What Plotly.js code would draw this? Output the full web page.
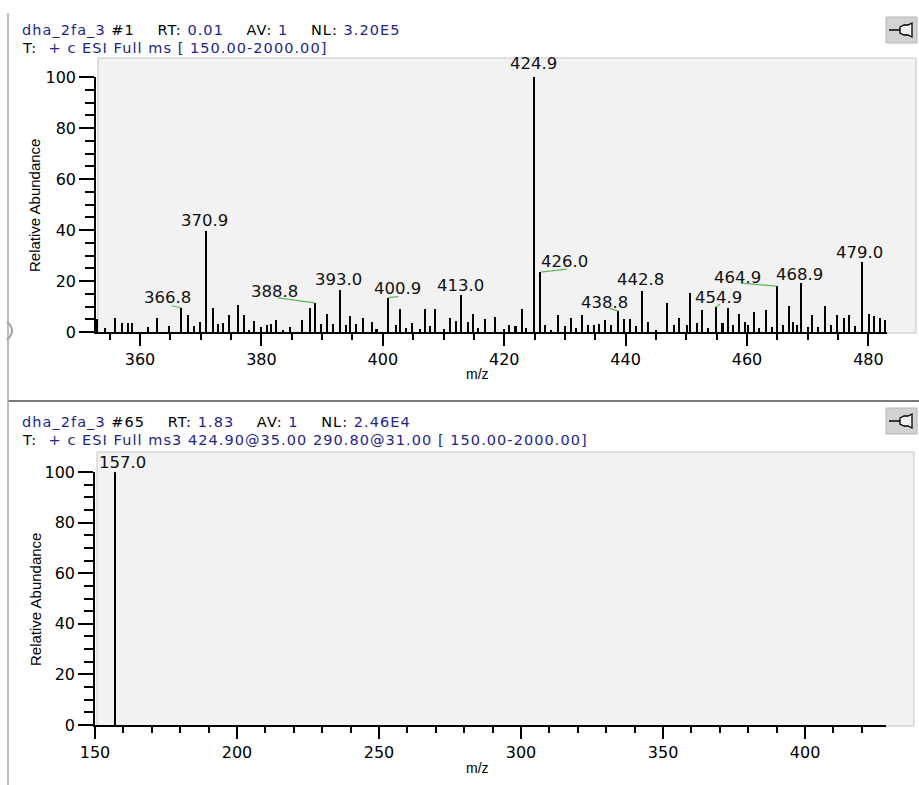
<!DOCTYPE html>
<html>
<head>
<meta charset="utf-8">
<script src="https://cdn.plot.ly/plotly-3.0.1.min.js"></script>
<style>html,body{margin:0;padding:0;background:#fff;}#chart{width:919px;height:785px;}</style>
</head>
<body>
<div id="chart"></div>
<script>
// ---------- DATA ----------
const topMz = [352.9, 354.2, 356.0, 357.1, 358.1, 358.8, 361.4, 362.9, 364.8, 366.8, 368.0, 368.9, 370.0, 370.9, 372.1, 372.9, 373.7, 374.7, 376.2, 377.1, 378.0, 378.9, 379.9, 381.0, 381.7, 382.5, 383.6, 384.8, 386.7, 388.0, 388.8, 389.9, 390.9, 391.8, 393.0, 393.9, 394.7, 395.6, 396.8, 398.3, 399.0, 400.9, 402.2, 402.8, 403.8, 404.9, 406.2, 407.0, 407.8, 408.7, 410.1, 411.1, 412.1, 413.0, 414.1, 414.9, 415.8, 416.8, 418.5, 420.0, 420.8, 421.9, 423.0, 423.7, 424.9, 426.0, 426.8, 427.8, 428.9, 430.0, 431.0, 431.9, 432.8, 433.9, 434.8, 435.6, 436.6, 437.7, 438.8, 439.7, 440.7, 441.8, 442.8, 443.7, 445.0, 446.8, 448.0, 448.8, 450.1, 450.6, 451.8, 452.7, 453.6, 454.9, 456.0, 456.9, 457.7, 458.7, 459.7, 460.2, 461.2, 462.0, 463.1, 464.1, 464.9, 465.9, 467.0, 467.6, 468.2, 468.9, 470.1, 470.8, 471.7, 472.9, 473.9, 474.8, 476.0, 476.9, 477.8, 479.0, 480.1, 481.0, 481.9, 482.8];
const topInt = [5.2, 1.5, 5.6, 3.5, 3.5, 3.5, 2.0, 5.6, 2.2, 9.5, 6.5, 2.2, 3.9, 39.5, 9.4, 3.3, 3.5, 6.5, 10.5, 6.5, 0.8, 4.3, 2.0, 2.6, 3.3, 4.8, 0.6, 2.0, 4.8, 9.4, 11.4, 3.0, 7.2, 3.3, 16.3, 2.6, 6.1, 3.0, 5.6, 3.9, 1.3, 13.5, 2.6, 9.1, 1.7, 3.7, 1.3, 9.1, 2.4, 9.1, 1.0, 5.6, 4.3, 14.5, 3.9, 6.9, 1.7, 5.2, 6.0, 1.0, 2.6, 2.4, 9.1, 1.7, 100, 23.5, 2.6, 0.8, 6.5, 2.4, 5.6, 1.7, 6.5, 2.6, 2.6, 3.0, 4.9, 2.6, 8.2, 5.2, 5.2, 2.4, 16.1, 3.9, 0.7, 11.5, 2.9, 5.5, 2.6, 15.4, 3.7, 8.5, 1.6, 9.8, 3.7, 9.4, 2.6, 7.2, 3.9, 2.6, 7.8, 1.6, 8.5, 2.0, 18.0, 2.6, 10.2, 3.9, 2.6, 19.2, 2.0, 6.5, 2.0, 10.1, 2.6, 6.8, 5.5, 6.8, 2.3, 27.6, 7.2, 6.3, 5.5, 4.9];
const topLabels = [366.8, 370.9, 388.8, 393.0, 400.9, 413.0, 424.9, 426.0, 438.8, 442.8, 454.9, 464.9, 468.9, 479.0];

const botMz = [157.0];
const botInt = [100];
const botLabels = [157.0];

const xTitle = 'm/z';
const yTitle = 'Relative Abundance';
const topHeader1 = ['dha_2fa_3', ' #1', '    RT: ', '0.01', '    AV: ', '1', '    NL: ', '3.20E5'];
const topHeader2 = ['T: ', ' + c ESI Full ms [ 150.00-2000.00]'];
const botHeader1 = ['dha_2fa_3', ' #65', '    RT: ', '1.83', '    AV: ', '1', '    NL: ', '2.46E4'];
const botHeader2 = ['T: ', ' + c ESI Full ms3 424.90@35.00 290.80@31.00 [ 150.00-2000.00]'];

// ---------- STYLE / LAYOUT ----------
const W = 919, H = 785;
const px = x => x / W;
const py = y => 1 - y / H;
const NAVY = '#24248f';
const LEAF = '#5cb85c';
const numFont = 'DejaVu Sans, sans-serif';
const txtFont = 'Liberation Sans, Arial, sans-serif';

// label text offsets (px, relative to bar top) and leader tails (px)
const topLabelOffset = [[-14,-10],[-2,-11],[-40,-11],[-2,-11],[9,-9],[-1,-10],[0,-13],[24,-11],[-14,-9],[-2,-11],[2,-10],[-39,-9],[-2,-9],[-3,-9]];
const topLeader = [[-10,-2],null,[-37,-5],null,[10,-1],null,null,[26,-3],[-9,-3],null,[4,-3],[-36,-3],null,null];
const botLabelOffset = [[8,-10]];
const botLeader = [[9,-2]];

const topAx = {xd:[96,887], xr:[352.75,483.06], yd:[332,77], yr:[0,100]};
const botAx = {xd:[95,886], xr:[150,428.5], yd:[725,472], yr:[0,100]};
const scaleX = a => (a.xr[1]-a.xr[0])/(a.xd[1]-a.xd[0]);
const scaleY = a => (a.yr[1]-a.yr[0])/(a.yd[0]-a.yd[1]);

const LS = 'letter-spacing:1.05px;';
function hdrLine1(parts) {
  const cols = [NAVY, '#000', '#000', NAVY, '#000', NAVY, '#000', NAVY];
  return parts.map((p, i) => `<span style="${LS}color:${cols[i]}">${p.replace(/ /g, '\u00A0')}</span>`).join('');
}
function hdrLine2(parts) {
  const cols = ['#000', NAVY];
  return parts.map((p, i) => `<span style="${LS}color:${cols[i]}">${p.replace(/ /g, '\u00A0')}</span>`).join('');
}

function stick(mz, inten, xa, ya, w) {
  return {type:'bar', x:mz, y:inten, width:w, xaxis:xa, yaxis:ya,
    marker:{color:'#000', line:{width:0}}, hoverinfo:'x+y'};
}
function leaders(labels, mz, inten, lead, ax, xa, ya) {
  const xs = [], ys = [];
  labels.forEach((m, i) => {
    if (!lead[i]) return;
    const v = inten[mz.indexOf(m)];
    xs.push(m, m + lead[i][0]*scaleX(ax), null);
    ys.push(v, v - lead[i][1]*scaleY(ax), null);
  });
  return {type:'scatter', mode:'lines', x:xs, y:ys, xaxis:xa, yaxis:ya,
    line:{color:LEAF, width:1.2}, hoverinfo:'skip', cliponaxis:false};
}
function labelAnn(labels, mz, inten, offs, xa, ya) {
  return labels.map((m, i) => ({
    x: m, y: inten[mz.indexOf(m)], xref: xa, yref: ya,
    text: m.toFixed(1), showarrow: false, xanchor: 'center', yanchor: 'middle',
    xshift: offs[i][0], yshift: -offs[i][1], borderpad: 0,
    font: {family: numFont, size: 16.5, color: '#111'}
  }));
}

const data = [
  stick(topMz, topInt, 'x', 'y', 0.25),
  leaders(topLabels, topMz, topInt, topLeader, topAx, 'x', 'y'),
  stick(botMz, botInt, 'x2', 'y2', 0.5),
  leaders(botLabels, botMz, botInt, botLeader, botAx, 'x2', 'y2')
];

function xAxis(a, anchor, dtick, mdtick) {
  return {domain:[px(a.xd[0]), px(a.xd[1])], range:a.xr, anchor:anchor,
    showline:true, linecolor:'#000', linewidth:1.6, ticks:'outside', ticklen:12, tickwidth:1.5, tickcolor:'#000',
    tick0:0, dtick:dtick, minor:{tick0:0, dtick:mdtick, ticks:'outside', ticklen:6, tickwidth:1.5, tickcolor:'#000', showgrid:false},
    showgrid:false, zeroline:false, fixedrange:true, tickfont:{family:numFont, size:16, color:'#000'}};
}
function yAxis(a, anchor) {
  return {domain:[py(a.yd[0]), py(a.yd[1])], range:a.yr, anchor:anchor,
    showline:true, linecolor:'#000', linewidth:1.6, ticks:'outside', ticklen:15, tickwidth:1.5, tickcolor:'#000',
    tick0:0, dtick:20, minor:{tick0:0, dtick:5, ticks:'outside', ticklen:9, tickwidth:1.5, tickcolor:'#000', showgrid:false},
    showgrid:false, zeroline:false, fixedrange:true, tickfont:{family:numFont, size:16, color:'#000'}};
}

function pin(cy) {
  const s = [];
  s.push({type:'rect', xref:'paper', yref:'paper', x0:px(886), x1:px(917), y0:py(cy+13), y1:py(cy-13),
    fillcolor:'#d2d2d2', line:{color:'#b4b4b4', width:1}, layer:'above'});
  s.push({type:'line', xref:'paper', yref:'paper', x0:px(889), x1:px(900), y0:py(cy), y1:py(cy), line:{color:'#000', width:1.5}});
  s.push({type:'path', xref:'paper', yref:'paper',
    path:`M ${px(900)} ${py(cy-3)} L ${px(904)} ${py(cy-5)} L ${px(908)} ${py(cy-5)} L ${px(912)} ${py(cy-7)} L ${px(912)} ${py(cy+7)} L ${px(908)} ${py(cy+5)} L ${px(904)} ${py(cy+5)} L ${px(900)} ${py(cy+3)} Z`,
    fillcolor:'#f0f0f0', line:{color:'#000', width:1.3}});
  return s;
}

const shapes = [
  {type:'rect', xref:'paper', yref:'paper', x0:px(98), x1:px(916), y0:py(333), y1:py(58), fillcolor:'#f2f2f2', line:{color:'#c6c6c6', width:1}, layer:'below'},
  {type:'rect', xref:'paper', yref:'paper', x0:px(97), x1:px(914), y0:py(726), y1:py(452), fillcolor:'#f2f2f2', line:{color:'#c6c6c6', width:1}, layer:'below'},
  {type:'line', xref:'paper', yref:'paper', x0:px(8), x1:px(919), y0:py(401), y1:py(401), line:{color:'#7a7a7a', width:2}, layer:'below'},
  {type:'line', xref:'paper', yref:'paper', x0:px(8), x1:px(8), y0:py(13), y1:py(785), line:{color:'#a6a6a6', width:1.5}, layer:'below'},
  {type:'path', xref:'paper', yref:'paper', path:`M ${px(7)} ${py(322)} Q ${px(17)} ${py(330)} ${px(7)} ${py(340)}`, line:{color:'#a0a0a0', width:2}, layer:'below'},
  ...pin(30), ...pin(421)
];

const hdrFont = {family:numFont, size:14.5, color:'#000'};
const annotations = [
  {xref:'paper', yref:'paper', x:px(21), y:py(30.5), xanchor:'left', yanchor:'middle', showarrow:false, borderpad:0, text:hdrLine1(topHeader1), font:hdrFont},
  {xref:'paper', yref:'paper', x:px(21), y:py(48), xanchor:'left', yanchor:'middle', showarrow:false, borderpad:0, text:hdrLine2(topHeader2), font:hdrFont},
  {xref:'paper', yref:'paper', x:px(21), y:py(422), xanchor:'left', yanchor:'middle', showarrow:false, borderpad:0, text:hdrLine1(botHeader1), font:hdrFont},
  {xref:'paper', yref:'paper', x:px(21), y:py(439.5), xanchor:'left', yanchor:'middle', showarrow:false, borderpad:0, text:hdrLine2(botHeader2), font:hdrFont},
  {xref:'paper', yref:'paper', x:px(477), y:py(374), xanchor:'center', yanchor:'middle', showarrow:false, text:xTitle, font:{family:txtFont, size:14, color:'#000'}},
  {xref:'paper', yref:'paper', x:px(477), y:py(768), xanchor:'center', yanchor:'middle', showarrow:false, text:xTitle, font:{family:txtFont, size:14, color:'#000'}},
  {xref:'paper', yref:'paper', x:px(35), y:py(206), xanchor:'center', yanchor:'middle', showarrow:false, textangle:-90, text:yTitle, font:{family:txtFont, size:15, color:'#000'}},
  {xref:'paper', yref:'paper', x:px(35), y:py(600), xanchor:'center', yanchor:'middle', showarrow:false, textangle:-90, text:yTitle, font:{family:txtFont, size:15, color:'#000'}},
  ...labelAnn(topLabels, topMz, topInt, topLabelOffset, 'x', 'y'),
  ...labelAnn(botLabels, botMz, botInt, botLabelOffset, 'x2', 'y2')
];

const layout = {
  width: W, height: H, margin:{l:0, r:0, t:0, b:0, pad:0},
  paper_bgcolor:'#ffffff', plot_bgcolor:'rgba(0,0,0,0)', showlegend:false, bargap:0,
  xaxis: xAxis(topAx, 'y', 20, 5),
  yaxis: yAxis(topAx, 'x'),
  xaxis2: xAxis(botAx, 'y2', 50, 10),
  yaxis2: yAxis(botAx, 'x2'),
  shapes: shapes, annotations: annotations
};

Plotly.newPlot('chart', data, layout, {displayModeBar:false, responsive:false});
</script>
</body>
</html>
